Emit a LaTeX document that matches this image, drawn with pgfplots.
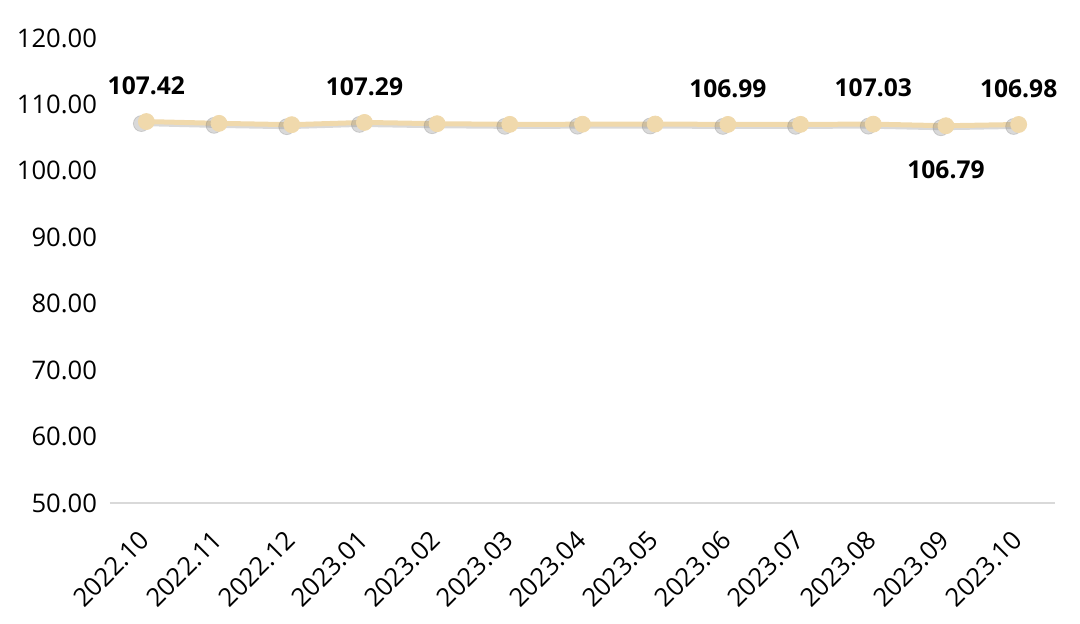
\documentclass[border=0pt]{standalone}
\usepackage{fontspec}
\setmainfont{Open Sans}
\usepackage{pgfplots}
\pgfplotsset{compat=1.18}
\usepackage{pgfplotstable}

\definecolor{beige}{HTML}{F0D9AC}
\definecolor{axisgray}{HTML}{D9D9D9}

\pgfplotstableread{
x y
0 107.42
1 107.15
2 106.95
3 107.29
4 107.10
5 107.00
6 107.02
7 107.05
8 106.99
9 107.00
10 107.03
11 106.79
12 106.98
}\pricedata

\begin{document}
\begin{tikzpicture}
\path[use as bounding box] (-55pt,-60.5pt) rectangle (485pt,251.5pt);
\begin{axis}[
    at={(0,0)}, anchor=south west,
    scale only axis,
    width=472.5pt, height=232.5pt,
    xmin=-0.5, xmax=12.5,
    ymin=50, ymax=120,
    ytick={50,60,...,120},
    xtick={0,...,12},
    xticklabels={2022.10,2022.11,2022.12,2023.01,2023.02,2023.03,2023.04,2023.05,2023.06,2023.07,2023.08,2023.09,2023.10},
    axis x line*=bottom,
    axis y line*=left,
    y axis line style={draw=none},
    x axis line style={axisgray, line width=1pt, -},
    major tick length=0pt,
    clip=false,
    tick label style={font=\fontsize{12.8}{14}\selectfont, black},
    /pgf/number format/assume math mode=true,
    yticklabel style={xshift=-3pt, /pgf/number format/.cd, fixed, fixed zerofill, precision=2},
    xticklabel style={rotate=45, anchor=east, yshift=-11pt, xshift=-8.5pt},
]
% soft shadow
\addplot[gray, opacity=0.3, line width=2.5pt, mark=*, mark size=4pt,
    mark options={line width=0.4pt},
    xshift=-2.5pt, yshift=-1pt] table[x=x, y=y] {\pricedata};
\addplot[beige, line width=2.5pt, mark=*, mark size=4pt,
    mark options={fill=beige, draw=beige, line width=0.4pt}] table[x=x, y=y] {\pricedata};
% labels above
\addplot[draw=none, mark=none, nodes near coords,
    nodes near coords style={font=\fontsize{12.3}{14}\selectfont\bfseries, black,
        anchor=south, yshift=10pt,
        /pgf/number format/.cd, fixed, fixed zerofill, precision=2, assume math mode=true}]
    coordinates {(0,107.42) (3,107.29) (8,106.99) (10,107.03) (12,106.98)};
% label below
\addplot[draw=none, mark=none, nodes near coords,
    nodes near coords style={font=\fontsize{12.3}{14}\selectfont\bfseries, black,
        anchor=north, yshift=-14pt,
        /pgf/number format/.cd, fixed, fixed zerofill, precision=2, assume math mode=true}]
    coordinates {(11,106.79)};
\end{axis}
\end{tikzpicture}
\end{document}
